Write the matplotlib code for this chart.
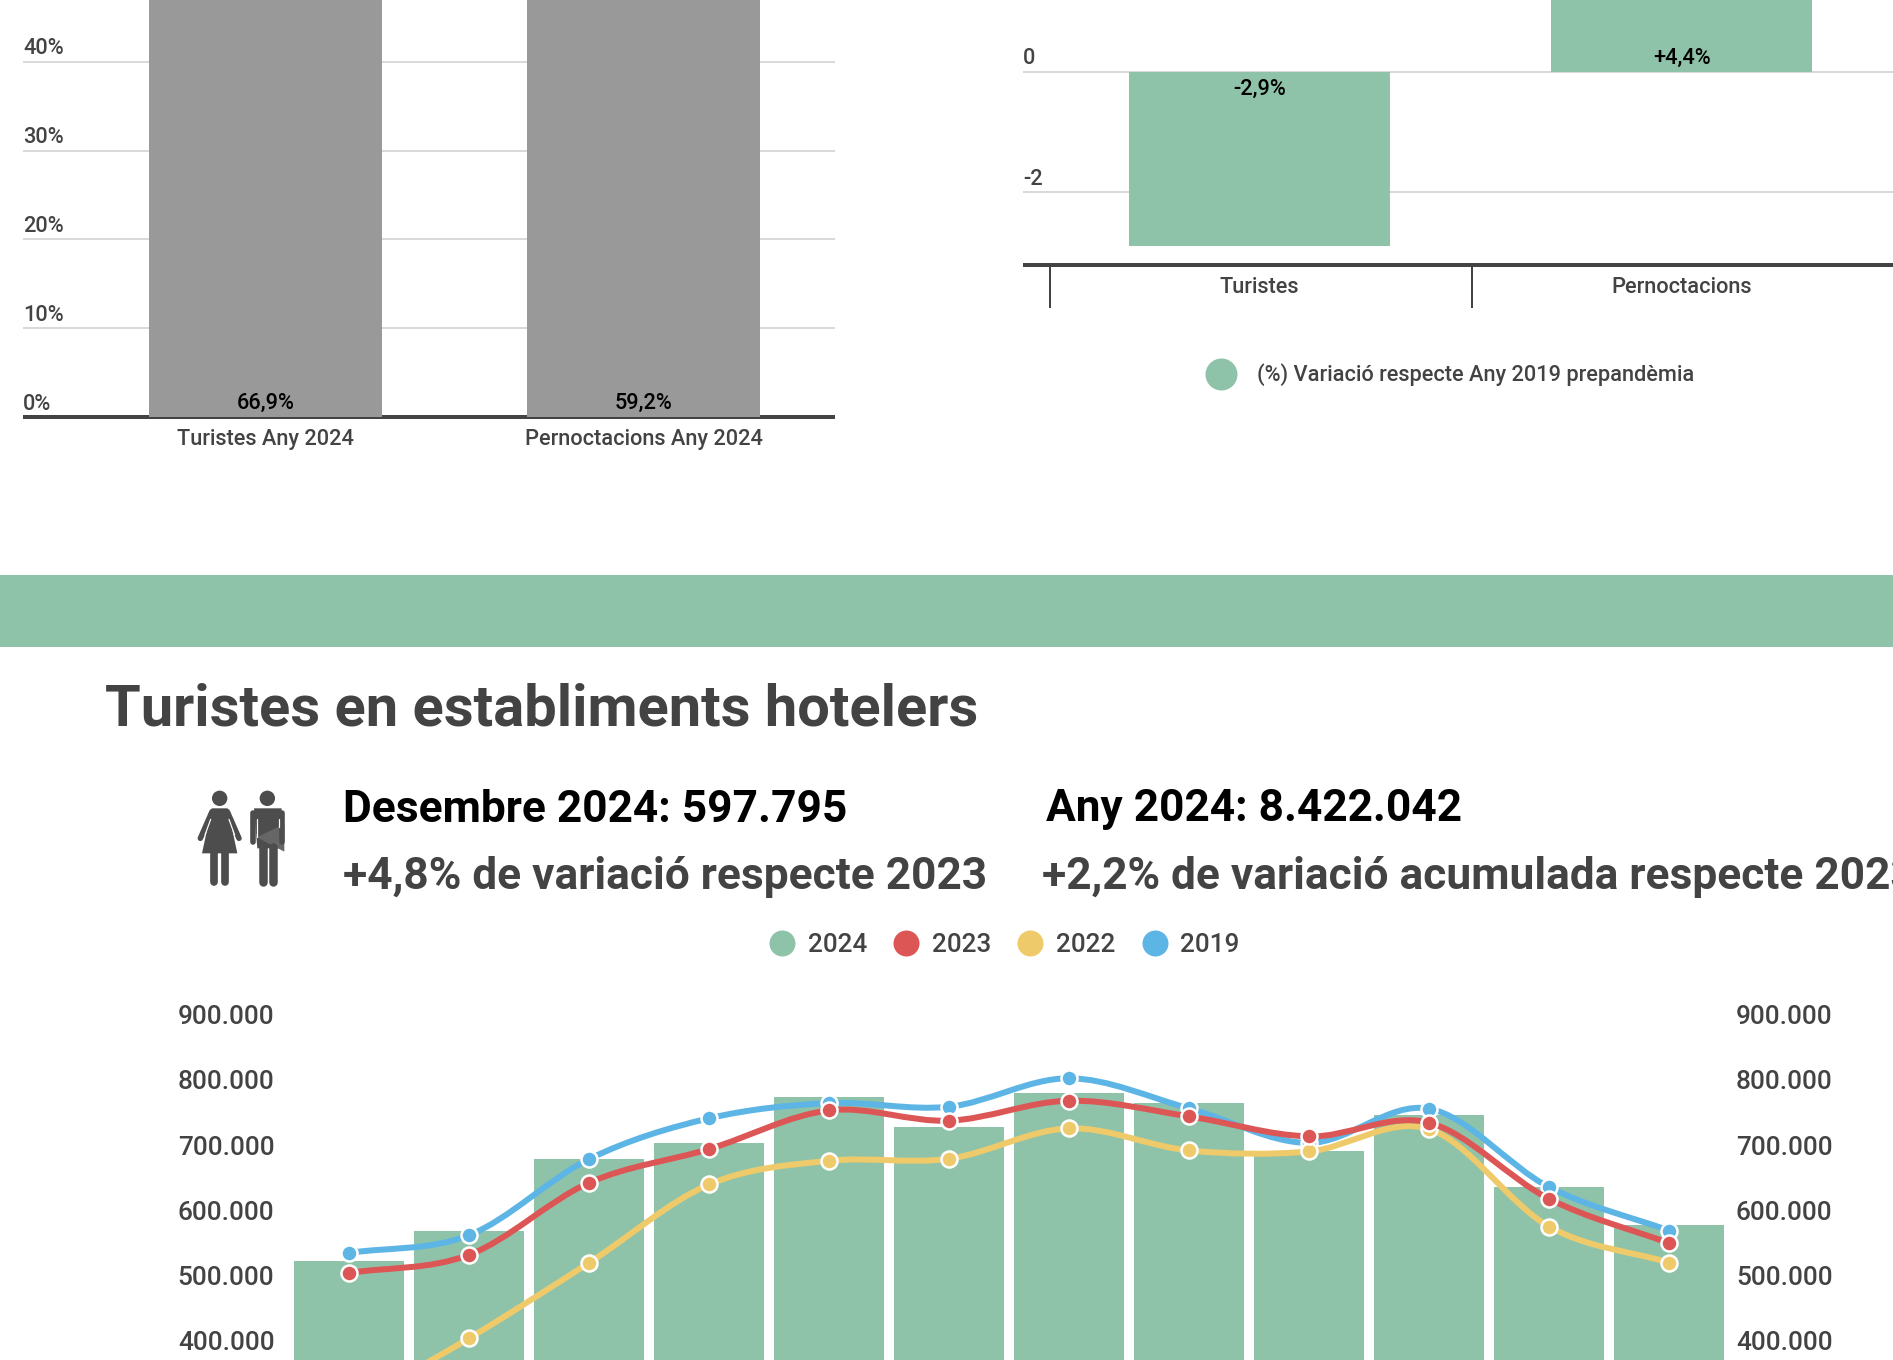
import matplotlib
matplotlib.use("Agg")
import matplotlib.pyplot as plt
import matplotlib.transforms as mtrans
from matplotlib.lines import Line2D
from matplotlib.patches import Circle, Polygon, PathPatch
from matplotlib.path import Path
import numpy as np

# ---------- data ----------
share_categories = ["Turistes Any 2024", "Pernoctacions Any 2024"]
share_values = [66.9, 59.2]
share_labels = ["66,9%", "59,2%"]
share_ticks = [0, 10, 20, 30, 40]
share_ticklabels = ["0%", "10%", "20%", "30%", "40%"]

var_categories = ["Turistes", "Pernoctacions"]
var_values = [-2.9, 4.4]
var_labels = ["-2,9%", "+4,4%"]
var_ticks = [-2, 0]
var_ticklabels = ["-2", "0"]

months = list(range(12))
t2024 = [543300, 589300, 699700, 724200, 794800, 748800, 800900, 785600, 712000, 767200, 656700, 597795]
t2023 = [524800, 552500, 662900, 714500, 773800, 758000, 788600, 764600, 733900, 754900, 638300, 570400]
t2022 = [320000, 424700, 540200, 660300, 696600, 699700, 746200, 712400, 710900, 745200, 595900, 540600]
t2019 = [555500, 582600, 699200, 761600, 785000, 779400, 822900, 776900, 724000, 776400, 656300, 589700]
tour_ticks = [400000, 500000, 600000, 700000, 800000, 900000]
tour_ticklabels = ["400.000", "500.000", "600.000", "700.000", "800.000", "900.000"]

# ---------- style ----------
W, H = 1893, 1360
GREEN, RED, YEL, BLUE = "#8FC3A9", "#DD5656", "#EFCA6A", "#5DB5E5"
GREY, DARK, GRID = "#999999", "#434343", "#D9D9D9"
PX = 0.72
plt.rcParams["font.family"] = ["Roboto", "DejaVu Sans"]
plt.rcParams["font.weight"] = 500

fig = plt.figure(figsize=(W / 100, H / 100), dpi=100, facecolor="white")


def ax_px(l, t, r, b, **kw):
    return fig.add_axes([l / W, 1 - b / H, (r - l) / W, (b - t) / H], **kw)


def lift_labels(ax, px):
    off = mtrans.ScaledTranslation(0, px / 100, fig.dpi_scale_trans)
    for lab in ax.get_yticklabels():
        lab.set_transform(lab.get_transform() + off)
        lab.set_verticalalignment("baseline")


def clean(ax):
    for s in ax.spines.values():
        s.set_visible(False)
        s.set_capstyle("butt")
    ax.set_facecolor("none")


# overlay in pixel coordinates
ov = fig.add_axes([0, 0, 1, 1], zorder=0)
ov.set_xlim(0, W)
ov.set_ylim(H, 0)
ov.axis("off")
ov.axhspan(575, 647, color=GREEN, lw=0)

# ---------- share chart ----------
ax1 = ax_px(23, 0, 834.5, 417, zorder=2)
clean(ax1)
ax1.set_xlim(-0.642, 1.505)
ax1.set_ylim(0, 417 / 8.88)
ax1.bar(range(2), share_values, width=0.618, color=GREY, zorder=3)
ax1.grid(axis="y", color=GRID, lw=2 * PX, zorder=1)
ax1.set_axisbelow(True)
ax1.spines["bottom"].set_visible(True)
ax1.spines["bottom"].set_color(DARK)
ax1.spines["bottom"].set_linewidth(4 * PX)
ax1.set_xticks(range(2), share_categories)
ax1.set_yticks(share_ticks, share_ticklabels)
ax1.tick_params(axis="both", length=0, labelsize=15.7, labelcolor=DARK)
ax1.tick_params(axis="x", pad=8.5)
ax1.tick_params(axis="y", pad=0)
for lab in ax1.get_yticklabels():
    lab.set_horizontalalignment("left")
lift_labels(ax1, 7.5)
for i, t in enumerate(share_labels):
    ax1.annotate(t, (i, 0), xytext=(0, 14 * PX), textcoords="offset points",
                 ha="center", va="center", fontsize=15.7, color="black", zorder=5)

# ---------- variation chart ----------
C0, STEP = 1259.2, 422.6
ax2 = ax_px(1022.8, 0, W, 265, zorder=2)
clean(ax2)
ax2.set_xlim((1022.8 - C0) / STEP, (W - C0) / STEP)
ax2.set_ylim(-(265 - 71.7) / 60.15, 71.7 / 60.15)
ax2.bar(range(2), var_values, width=0.617, color=GREEN, zorder=3)
ax2.grid(axis="y", color=GRID, lw=2 * PX, zorder=1)
ax2.set_axisbelow(True)
ax2.spines["bottom"].set_visible(True)
ax2.spines["bottom"].set_color(DARK)
ax2.spines["bottom"].set_linewidth(4 * PX)
ax2.set_xticks(range(2), var_categories)
ax2.set_xticks([-0.495, 0.503], minor=True)
ax2.set_yticks(var_ticks, var_ticklabels)
ax2.tick_params(axis="both", which="major", length=0, labelsize=15.7, labelcolor=DARK)
ax2.tick_params(axis="x", which="major", pad=8.4)
ax2.tick_params(axis="x", which="minor", length=43 * PX, width=2 * PX, color=DARK)
ax2.tick_params(axis="y", pad=0)
for lab in ax2.get_yticklabels():
    lab.set_horizontalalignment("left")
lift_labels(ax2, 7.3)
for i, (v, t) in enumerate(zip(var_values, var_labels)):
    dy = 13.2 if v > 0 else -17.8
    ax2.annotate(t, (i, 0), xytext=(0, dy * PX), textcoords="offset points",
                 ha="center", va="center", fontsize=15.7, color="black", zorder=5)
leg2 = ov.legend(
    handles=[Line2D([], [], marker="o", ls="none", ms=32 * PX, mfc=GREEN, mec=GREEN, mew=0,
                    label="(%) Variació respecte Any 2019 prepandèmia")],
    loc="center", bbox_to_anchor=(1450 / W, 1 - 375 / H), bbox_transform=fig.transFigure,
    frameon=False, fontsize=15.7, labelcolor=DARK, handlelength=1.47, handletextpad=0.92,
    borderpad=0, numpoints=1, borderaxespad=0)
ov.add_artist(leg2)

# ---------- headings ----------
ov.text(105, 704, "Turistes en establiments hotelers", fontsize=41.7, weight="bold",
        color=DARK, ha="left", va="center_baseline")
ov.text(343, 805, "Desembre 2024: 597.795", fontsize=31.9, weight="bold",
        color="black", ha="left", va="center_baseline")
ov.text(343, 872, "+4,8% de variació respecte 2023", fontsize=31.9, weight="bold",
        color=DARK, ha="left", va="center_baseline")
ov.text(1045.5, 805, "Any 2024: 8.422.042", fontsize=31.9, weight="bold",
        color="black", ha="left", va="center_baseline")
ov.text(1042.5, 872, "+2,2% de variació acumulada respecte 2023", fontsize=31.9, weight="bold",
        color=DARK, ha="left", va="center_baseline", clip_on=False)


# ---------- people icon (zoom coordinates of the pictogram) ----------
def ix(x):
    return 180 + x / 3


def iy(y):
    return 780 + y / 3


ICON = "#4D4D4D"


def iline(x0, y0, x1, y1, w, c=ICON):
    ov.add_line(Line2D([ix(x0), ix(x1)], [iy(y0), iy(y1)], lw=w * PX, color=c,
                       solid_capstyle="round"))


ov.add_patch(Circle((ix(119), iy(55)), 7.7, color=ICON, lw=0))
ov.add_patch(Polygon([(ix(x), iy(y)) for x, y in
                      [(95, 85), (143, 85), (172, 220), (66, 220)]], color=ICON, lw=0))
iline(96, 95, 61, 175, 5.5)
iline(142, 95, 177, 175, 5.5)
iline(92, 118, 75, 165, 1.2, "white")
iline(147, 118, 164, 165, 1.2, "white")
iline(103, 220, 103, 307, 7.7)
iline(134, 220, 134, 307, 7.7)

ov.add_patch(Circle((ix(262), iy(55)), 7.7, color=ICON, lw=0))
ov.add_patch(Polygon([(ix(x), iy(y)) for x, y in
                      [(222, 85), (305, 85), (295, 205), (232, 205)]], color=ICON, lw=0))
iline(220, 100, 220, 186, 5.6)
iline(307, 100, 307, 186, 5.6)
iline(231, 116, 231, 172, 1.2, "white")
iline(296, 116, 296, 140, 1.2, "white")
iline(248, 200, 248, 305, 8.5)
iline(280, 200, 280, 305, 8.5)
ov.add_patch(Polygon([(ix(x), iy(y)) for x, y in
                      [(230, 172), (313, 132), (313, 215)]], color="#666666", lw=0))

# ---------- tourists chart ----------
ax3 = ax_px(289, 1028, 1729, 1360, zorder=2)
clean(ax3)
ax3.set_xlim(-0.5, 11.5)
ax3.set_ylim(600000 - 136 * 1533.7, 900000)
ax3.bar(months, t2024, width=0.909, color=GREEN, zorder=1)


def smooth(x, y):
    x, y = np.asarray(x, float), np.asarray(y, float)
    verts, codes = [(x[0], y[0])], [Path.MOVETO]
    dy = np.gradient(y, x)
    for i in range(len(x) - 1):
        h = x[i + 1] - x[i]
        verts += [(x[i] + h / 3, y[i] + dy[i] * h / 3),
                  (x[i + 1] - h / 3, y[i + 1] - dy[i + 1] * h / 3),
                  (x[i + 1], y[i + 1])]
        codes += [Path.CURVE4] * 3
    return Path(verts, codes)


for z, (vals, col) in enumerate([(t2019, BLUE), (t2022, YEL), (t2023, RED)]):
    ax3.add_patch(PathPatch(smooth(months, vals), fc="none", ec=col, lw=6 * PX,
                            zorder=3 + z * 0.1, capstyle="round"))
    ax3.plot(months, vals, ls="none", marker="o", ms=16 * PX, mfc=col, mec="white",
             mew=2.5 * PX, zorder=3.05 + z * 0.1)

ax3.set_xticks([])
ax3.set_yticks(tour_ticks, tour_ticklabels)
ax3.tick_params(axis="y", length=0, labelsize=18.95, labelcolor=DARK, pad=10.5)
lift_labels(ax3, 4)

ax3r = ax3.twinx()
clean(ax3r)
ax3r.set_ylim(ax3.get_ylim())
ax3r.set_yticks(tour_ticks, tour_ticklabels)
ax3r.tick_params(axis="y", length=0, labelsize=18.95, labelcolor=DARK, pad=5)
lift_labels(ax3r, 4)

handles = [Line2D([], [], marker="o", ls="none", ms=26 * PX, mfc=c, mec=c, mew=0, label=l)
           for c, l in [(GREEN, "2024"), (RED, "2023"), (YEL, "2022"), (BLUE, "2019")]]
ov.legend(handles=handles, loc="center", ncol=4,
          bbox_to_anchor=(1004.5 / W, 1 - 945.4 / H), bbox_transform=fig.transFigure,
          frameon=False, fontsize=18.7, labelcolor=DARK,
          handlelength=1.0, handletextpad=0.49, columnspacing=1.01,
          borderpad=0, numpoints=1, borderaxespad=0)

fig.savefig("out.png", dpi=100)
